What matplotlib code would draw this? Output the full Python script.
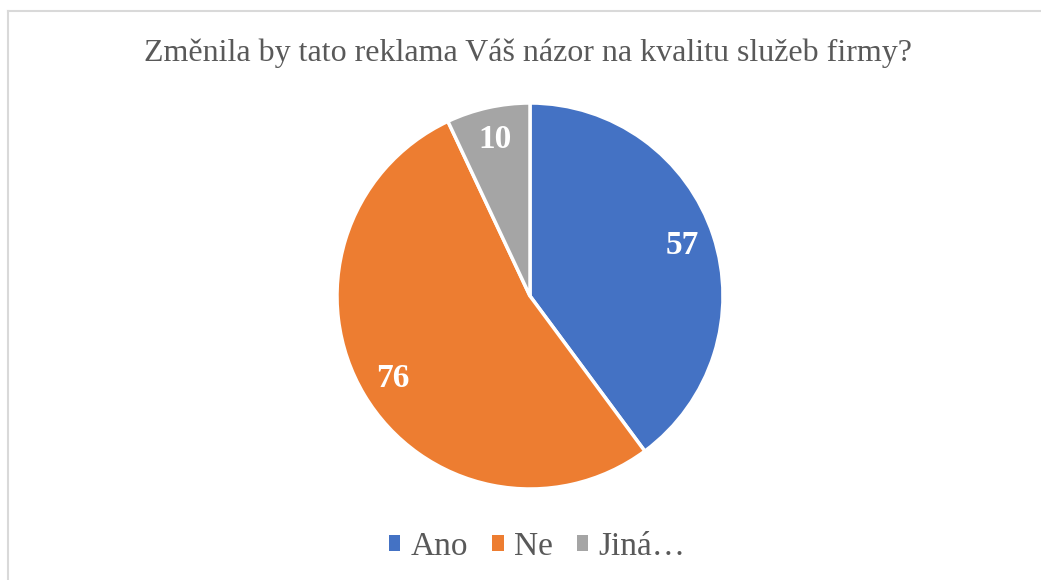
import matplotlib
matplotlib.use("Agg")
import matplotlib.pyplot as plt
from matplotlib.patches import Patch
from matplotlib.lines import Line2D

categories = ["Ano", "Ne", "Jiná…"]
values = [57, 76, 10]
colors = ["#4472C4", "#ED7D31", "#A5A5A5"]
title = "Změnila by tato reklama Váš názor na kvalitu služeb firmy?"

W, H = 1041, 580
fig = plt.figure(figsize=(W / 100, H / 100), dpi=100)
fig.patch.set_facecolor("white")

# border (top and left lines visible)
fig.add_artist(Line2D([7.5 / W, 7.5 / W], [0, 1 - 10.5 / H], transform=fig.transFigure,
                      color="#D9D9D9", lw=1.5))
fig.add_artist(Line2D([7.5 / W, 1], [1 - 10.5 / H, 1 - 10.5 / H], transform=fig.transFigure,
                      color="#D9D9D9", lw=1.5))

cx, cy, r = 530, 296, 193
ax = fig.add_axes([(cx - r) / W, (H - cy - r) / H, 2 * r / W, 2 * r / H])
total = sum(values)
wedges, texts, autotexts = ax.pie(
    values, colors=colors, startangle=90, counterclock=False, radius=1,
    autopct=lambda p: f"{round(p * total / 100):d}", pctdistance=0.83,
    wedgeprops=dict(edgecolor="white", linewidth=2.5),
    textprops=dict(color="white", fontsize=24, fontweight="bold",
                   family="Liberation Serif"))
ax.set_xlim(-1, 1)
ax.set_ylim(-1, 1)
ax.set_aspect("equal")
ax.axis("off")

fig.text(0.5 * (145 + 912) / W, 1 - 53 / H, title, ha="center", va="center",
         fontsize=23, color="#595959", family="Liberation Serif")

handles = [Patch(facecolor=c, edgecolor="none") for c in colors]
fig.legend(handles, categories, loc="center", bbox_to_anchor=(537 / W, 1 - 547 / H),
           ncol=3, frameon=False, prop=dict(family="Liberation Serif", size=24),
           labelcolor="#595959", handlelength=0.35, handleheight=0.35,
           handletextpad=0.3, columnspacing=0.72)

fig.savefig("out.png", dpi=100, facecolor="white")
